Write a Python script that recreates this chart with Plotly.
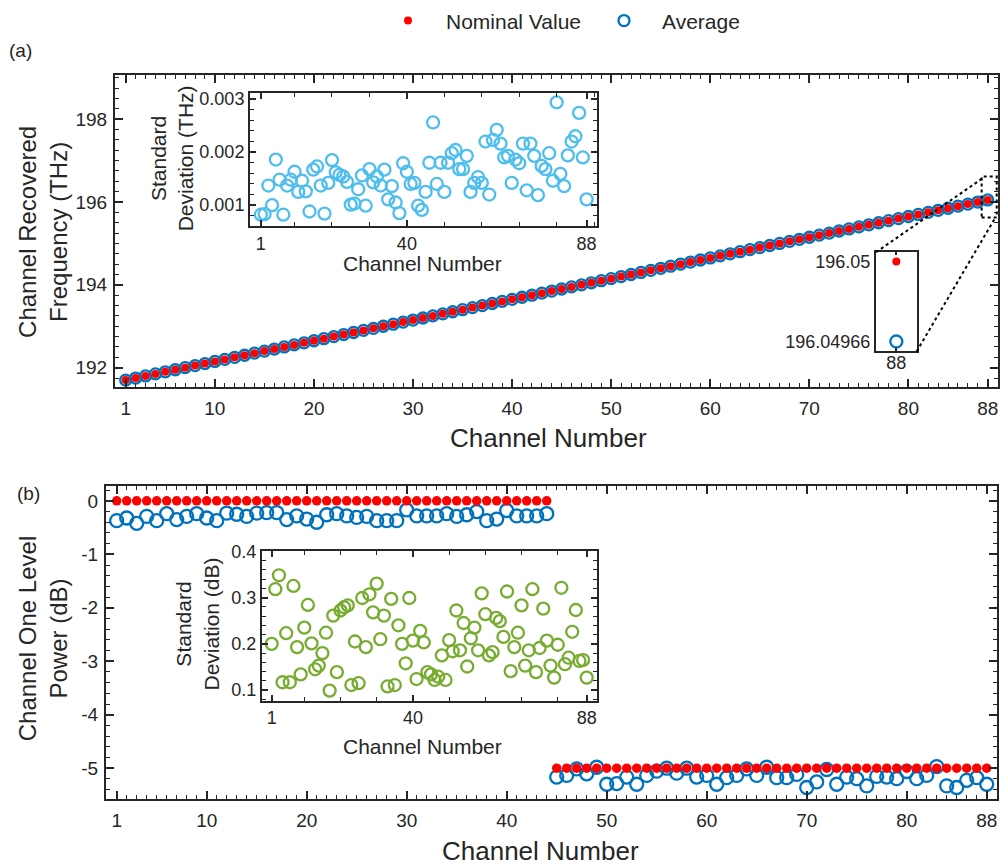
import plotly.graph_objects as go

# ---------------- data ----------------
channels = list(range(1, 89))

# (a) nominal ITU grid frequency and recovered average (THz)
freq_nominal = [
    191.70, 191.75, 191.80, 191.85, 191.90, 191.95, 192.00, 192.05, 192.10, 192.15,
    192.20, 192.25, 192.30, 192.35, 192.40, 192.45, 192.50, 192.55, 192.60, 192.65,
    192.70, 192.75, 192.80, 192.85, 192.90, 192.95, 193.00, 193.05, 193.10, 193.15,
    193.20, 193.25, 193.30, 193.35, 193.40, 193.45, 193.50, 193.55, 193.60, 193.65,
    193.70, 193.75, 193.80, 193.85, 193.90, 193.95, 194.00, 194.05, 194.10, 194.15,
    194.20, 194.25, 194.30, 194.35, 194.40, 194.45, 194.50, 194.55, 194.60, 194.65,
    194.70, 194.75, 194.80, 194.85, 194.90, 194.95, 195.00, 195.05, 195.10, 195.15,
    195.20, 195.25, 195.30, 195.35, 195.40, 195.45, 195.50, 195.55, 195.60, 195.65,
    195.70, 195.75, 195.80, 195.85, 195.90, 195.95, 196.00, 196.05,
]
freq_average = [
    191.69982, 191.74975, 191.79988, 191.84969, 191.89991, 191.94978, 191.99985, 192.04972, 192.09990, 192.14981,
    192.19967, 192.24986, 192.29979, 192.34992, 192.39974, 192.44983, 192.49970, 192.54988, 192.59977, 192.64985,
    192.69973, 192.74990, 192.79981, 192.84968, 192.89987, 192.94976, 192.99984, 193.04971, 193.09989, 193.14980,
    193.19975, 193.24987, 193.29969, 193.34983, 193.39978, 193.44991, 193.49972, 193.54985, 193.59980, 193.64968,
    193.69986, 193.74977, 193.79990, 193.84973, 193.89982, 193.94979, 193.99967, 194.04988, 194.09975, 194.14984,
    194.19971, 194.24989, 194.29978, 194.34982, 194.39970, 194.44987, 194.49976, 194.54983, 194.59969, 194.64990,
    194.69979, 194.74972, 194.79985, 194.84977, 194.89988, 194.94970, 194.99983, 195.04976, 195.09989, 195.14973,
    195.19981, 195.24968, 195.29986, 195.34979, 195.39972, 195.44988, 195.49975, 195.54984, 195.59970, 195.64987,
    195.69978, 195.74983, 195.79971, 195.84986, 195.89977, 195.94980, 195.99973, 196.04966,
]
# standard deviation of the recovered frequency (THz)
freq_std = [
    0.00082, 0.00083, 0.00137, 0.00100, 0.00186, 0.00148, 0.00082, 0.00137, 0.00148, 0.00163,
    0.00125, 0.00146, 0.00126, 0.00088, 0.00167, 0.00173, 0.00137, 0.00084, 0.00142, 0.00185,
    0.00162, 0.00157, 0.00154, 0.00144, 0.00101, 0.00103, 0.00130, 0.00156, 0.00099, 0.00168,
    0.00143, 0.00154, 0.00137, 0.00167, 0.00111, 0.00136, 0.00105, 0.00085, 0.00179, 0.00163,
    0.00140, 0.00142, 0.00099, 0.00091, 0.00125, 0.00180, 0.00256, 0.00140, 0.00180, 0.00125,
    0.00180, 0.00198, 0.00204, 0.00168, 0.00168, 0.00193, 0.00125, 0.00142, 0.00153, 0.00142,
    0.00220, 0.00120, 0.00223, 0.00242, 0.00216, 0.00190, 0.00193, 0.00142, 0.00186, 0.00179,
    0.00216, 0.00128, 0.00216, 0.00193, 0.00119, 0.00174, 0.00168, 0.00198, 0.00146, 0.00294,
    0.00159, 0.00136, 0.00194, 0.00220, 0.00230, 0.00274, 0.00190, 0.00111,
]

# (b) nominal and average "one" level power (dB)
power_nominal = [0.0] * 44 + [-5.0] * 44
power_average = [
    -0.37, -0.32, -0.42, -0.29, -0.37, -0.24, -0.35, -0.29, -0.24, -0.32,
    -0.37, -0.23, -0.25, -0.29, -0.23, -0.22, -0.22, -0.35, -0.28, -0.34,
    -0.40, -0.26, -0.24, -0.28, -0.31, -0.29, -0.37, -0.37, -0.37, -0.17,
    -0.28, -0.28, -0.28, -0.24, -0.29, -0.26, -0.20, -0.37, -0.34, -0.18,
    -0.28, -0.28, -0.28, -0.24,
    -5.165, -5.135, -5.012, -5.104, -4.982, -5.300, -5.287, -5.165, -5.300, -5.135,
    -5.055, -5.000, -5.092, -5.000, -5.165, -5.135, -5.300, -5.177, -5.135, -5.012,
    -5.135, -4.982, -5.177, -5.177, -5.116, -5.361, -5.257, -5.024, -5.300, -5.165,
    -5.196, -5.330, -5.153, -5.165, -5.196, -5.061, -5.196, -5.135, -4.969, -5.330,
    -5.361, -5.226, -5.177, -5.300,
]
# standard deviation of the one level power (dB)
power_std = [
    0.200, 0.318, 0.348, 0.117, 0.223, 0.117, 0.325, 0.193, 0.134, 0.235,
    0.284, 0.201, 0.145, 0.153, 0.180, 0.224, 0.099, 0.261, 0.139, 0.272,
    0.279, 0.283, 0.111, 0.205, 0.115, 0.299, 0.193, 0.307, 0.268, 0.330,
    0.210, 0.261, 0.108, 0.297, 0.111, 0.240, 0.200, 0.158, 0.299, 0.207,
    0.124, 0.228, 0.203, 0.139, 0.134, 0.122, 0.129, 0.175, 0.122, 0.208,
    0.184, 0.272, 0.186, 0.245, 0.151, 0.212, 0.235, 0.186, 0.309, 0.264,
    0.175, 0.182, 0.256, 0.249, 0.215, 0.313, 0.141, 0.193, 0.224, 0.283,
    0.153, 0.186, 0.318, 0.139, 0.191, 0.276, 0.207, 0.153, 0.127, 0.198,
    0.321, 0.156, 0.170, 0.226, 0.273, 0.163, 0.165, 0.127,
]

main_ticks = [1, 10, 20, 30, 40, 50, 60, 70, 80, 88]
inset_ticks = [1, 40, 88]
zoom_channel = 88

# ---------------- styling ----------------
W, H = 1000, 865
FONT = "Liberation Sans, Arial, sans-serif"
INK = "#262626"
RED = "#FF0000"
BLUE = "#0072BD"
LIGHTBLUE = "#4DBEEE"
GREEN = "#77AC30"

TICK = 19        # main tick labels
TITLE = 26       # main x titles
YTITLE = 24      # main y titles
ITICK = 18       # inset tick labels
ITITLE = 21      # inset titles


def px(x):
    return x / W


def py(y):
    return 1 - y / H


fig = go.Figure()

# (a) main panel
fig.add_trace(go.Scatter(
    x=channels, y=freq_average, mode="markers", name="Average",
    marker=dict(symbol="circle-open", size=11, color=BLUE, line=dict(width=2.3, color=BLUE)),
    xaxis="x", yaxis="y", legendrank=2))
fig.add_trace(go.Scatter(
    x=channels, y=freq_nominal, mode="markers", name="Nominal Value",
    marker=dict(symbol="circle", size=8, color=RED),
    xaxis="x", yaxis="y", legendrank=1))

# (b) main panel
fig.add_trace(go.Scatter(
    x=channels, y=power_average, mode="markers", showlegend=False,
    marker=dict(symbol="circle-open", size=13, color=BLUE, line=dict(width=2.3, color=BLUE)),
    xaxis="x2", yaxis="y2"))
fig.add_trace(go.Scatter(
    x=channels, y=power_nominal, mode="markers", showlegend=False,
    marker=dict(symbol="circle", size=9.5, color=RED),
    xaxis="x2", yaxis="y2"))

# inset: frequency standard deviation
fig.add_trace(go.Scatter(
    x=channels, y=freq_std, mode="markers", showlegend=False,
    marker=dict(symbol="circle-open", size=12, color=LIGHTBLUE, line=dict(width=2.3, color=LIGHTBLUE)),
    xaxis="x3", yaxis="y3"))

# inset: power standard deviation
fig.add_trace(go.Scatter(
    x=channels, y=power_std, mode="markers", showlegend=False,
    marker=dict(symbol="circle-open", size=12, color=GREEN, line=dict(width=2.3, color=GREEN)),
    xaxis="x4", yaxis="y4"))

# magnified view of the last channel
fig.add_trace(go.Scatter(
    x=[channels[-1]], y=[freq_average[-1]], mode="markers", showlegend=False,
    marker=dict(symbol="circle-open", size=12, color=BLUE, line=dict(width=2.3, color=BLUE)),
    xaxis="x5", yaxis="y5"))
fig.add_trace(go.Scatter(
    x=[channels[-1]], y=[freq_nominal[-1]], mode="markers", showlegend=False,
    marker=dict(symbol="circle", size=8, color=RED),
    xaxis="x5", yaxis="y5"))


def frame(**kw):
    base = dict(
        showline=True, linecolor=INK, linewidth=2, mirror="allticks",
        ticks="inside", ticklen=8, tickwidth=1.5, tickcolor=INK,
        showgrid=False, zeroline=False,
        tickfont=dict(family=FONT, size=TICK, color=INK),
    )
    base.update(kw)
    return base


minor_main_x = dict(ticks="inside", ticklen=4, tickwidth=1.2, tickcolor=INK, dtick=1, tick0=0)
ifont = dict(family=FONT, size=ITICK, color=INK)

fig.update_layout(
    width=W, height=H,
    margin=dict(l=0, r=0, t=0, b=0),
    paper_bgcolor="white", plot_bgcolor="white",
    font=dict(family=FONT, size=TICK, color=INK),
    showlegend=True,
    legend=dict(orientation="h", x=px(370), y=py(5), xanchor="left", yanchor="middle",
                font=dict(family=FONT, size=21, color=INK), bgcolor="rgba(0,0,0,0)",
                itemwidth=66, traceorder="normal", entrywidth=135, entrywidthmode="pixels"),
    xaxis=frame(domain=[px(115), px(998)], range=[-0.08, 89.04], anchor="y",
                tickmode="array", tickvals=main_ticks, minor=minor_main_x, ticklabelstandoff=3),
    yaxis=frame(domain=[py(377.7), py(60)], range=[191.54, 199.07], anchor="x",
                tickmode="array", tickvals=[192, 194, 196, 198], ticklabelstandoff=2,
                minor=dict(ticks="inside", ticklen=4, tickwidth=1.2, tickcolor=INK, dtick=0.25, tick0=192)),
    xaxis2=frame(domain=[px(106), px(997)], range=[-0.07, 89.03], anchor="y2",
                 tickmode="array", tickvals=main_ticks, minor=minor_main_x, ticklabelstandoff=3),
    yaxis2=frame(domain=[py(798), py(479.3)], range=[-5.58, 0.27], anchor="x2",
                 tickmode="array", tickvals=[0, -1, -2, -3, -4, -5],
                 ticktext=["0", "-1", "-2", "-3", "-4", "-5"], ticklabelstandoff=2,
                 minor=dict(ticks="inside", ticklen=4, tickwidth=1.2, tickcolor=INK, dtick=0.2, tick0=0)),
    xaxis3=frame(domain=[px(250), px(596.7)], range=[-1.9, 90.7], anchor="y3",
                 tickmode="array", tickvals=inset_ticks, ticklen=6, tickfont=ifont,
                 minor=dict(ticks="inside", ticklen=4, tickwidth=1.2, tickcolor=INK,
                            tickvals=[10, 20, 30, 50, 60, 70, 80, 90])),
    yaxis3=frame(domain=[py(214), py(78.7)], range=[0.000606, 0.003111], anchor="x3",
                 tickmode="array", tickvals=[0.001, 0.002, 0.003],
                 ticktext=["0.001", "0.002", "0.003"], ticklen=6, tickfont=ifont,
                 minor=dict(ticks="inside", ticklen=4, tickwidth=1.2, tickcolor=INK, dtick=0.0002, tick0=0)),
    xaxis4=frame(domain=[px(262), px(596.7)], range=[-1.68, 90.76], anchor="y4",
                 tickmode="array", tickvals=inset_ticks, ticklen=6, tickfont=ifont,
                 minor=dict(ticks="inside", ticklen=4, tickwidth=1.2, tickcolor=INK,
                            tickvals=[10, 20, 30, 50, 60, 70, 80])),
    yaxis4=frame(domain=[py(697.7), py(545.3)], range=[0.077, 0.4], anchor="x4",
                 tickmode="array", tickvals=[0.1, 0.2, 0.3, 0.4], ticklen=6, tickfont=ifont,
                 minor=dict(ticks="inside", ticklen=4, tickwidth=1.2, tickcolor=INK, dtick=0.02, tick0=0)),
    xaxis5=frame(domain=[px(876), px(916.7)], range=[87.5, 88.5], anchor="y5",
                 tickmode="array", tickvals=[zoom_channel], ticklen=3, tickfont=ifont,
                 ticklabelstandoff=-6),
    yaxis5=frame(domain=[py(341.7), py(240.7)], range=[196.049618, 196.050039], anchor="x5",
                 tickmode="array", tickvals=[freq_average[-1], freq_nominal[-1]],
                 ticktext=[f"{freq_average[-1]:.5f}", f"{freq_nominal[-1]:.2f}"], ticks="",
                 tickfont=ifont),
)

# dotted marker around the magnified channel and the connector lines
dot = dict(color="black", width=2, dash="dot")
fig.add_shape(type="rect", xref="x", yref="y", x0=87.39, x1=88.91, y0=195.628, y1=196.616, line=dot)
fig.add_shape(type="line", xref="paper", yref="paper",
              x0=px(876), y0=py(240.7), x1=px(983), y1=py(165), line=dot)
fig.add_shape(type="line", xref="paper", yref="paper",
              x0=px(916.7), y0=py(341.7), x1=px(995), y1=py(206), line=dot)


# text labels
def label(text, x, y, size, angle=0):
    fig.add_annotation(text=text, x=px(x), y=py(y), xref="paper", yref="paper",
                       showarrow=False, textangle=angle, xanchor="center", yanchor="middle",
                       font=dict(family=FONT, size=size, color=INK))


label("(a)", 20, 35, 19)
label("(b)", 28, 486, 19)
label("Channel Recovered<br>Frequency (THz)", 43, 220, YTITLE, angle=-90)
label("Channel Number", 548, 430, TITLE)
label("Channel One Level<br>Power (dB)", 43, 635, YTITLE, angle=-90)
label("Channel Number", 540, 851, TITLE)
label("Standard<br>Deviation (THz)", 172, 145, ITITLE, angle=-90)
label("Channel Number", 422, 252, ITITLE)
label("Standard<br>Deviation (dB)", 197, 620, ITITLE, angle=-90)
label("Channel Number", 422, 744, ITITLE)

fig.write_html("out.html")
